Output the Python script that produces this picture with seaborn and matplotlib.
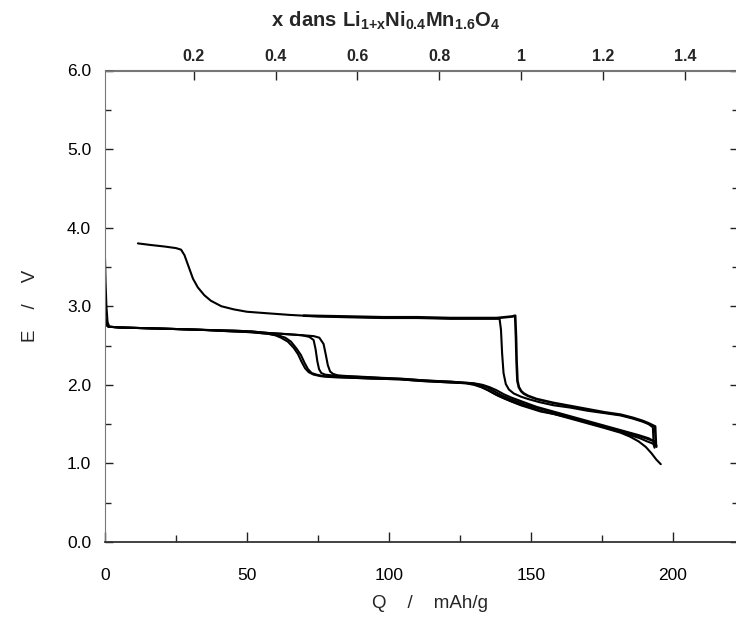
import numpy as np
import pandas as pd
import matplotlib
matplotlib.use("Agg")
import matplotlib.pyplot as plt
import seaborn as sns

# ---------------- data ----------------
q_u1 = [11.6, 16, 21, 25, 26.8, 28, 29.6, 31, 32.7, 35, 37.3, 41, 45.4, 50, 57.4, 65, 75, 85, 98, 110,
        121.8, 130, 136, 139.0, 139.5, 139.9, 140.4, 141.2, 142.3, 144, 146.5, 149, 153, 158, 164, 170,
        176, 181.7, 186, 189.5, 191.5, 193.0, 193.3]
e_u1 = [3.80, 3.78, 3.76, 3.74, 3.72, 3.65, 3.49, 3.35, 3.24, 3.14, 3.07, 3.00, 2.96, 2.93, 2.91, 2.89,
        2.87, 2.86, 2.85, 2.85, 2.84, 2.84, 2.84, 2.84, 2.70, 2.40, 2.15, 2.01, 1.94, 1.89, 1.85, 1.82,
        1.78, 1.74, 1.71, 1.67, 1.64, 1.61, 1.57, 1.53, 1.50, 1.46, 1.24]

q_u2 = [70, 85, 98, 110, 121.8, 130, 138, 143.5, 144.5, 144.8, 145.0, 145.3, 145.8, 146.6, 147.5, 149,
        152, 158, 164, 170, 176, 181.7, 186, 189.5, 191.5, 193.8, 194.1]
e_u2 = [2.88, 2.87, 2.86, 2.86, 2.85, 2.85, 2.85, 2.87, 2.88, 2.60, 2.30, 2.05, 1.97, 1.92, 1.89, 1.86,
        1.82, 1.77, 1.73, 1.69, 1.65, 1.62, 1.58, 1.54, 1.51, 1.47, 1.22]

q_l1 = [0.0, 0.2, 0.5, 0.9, 1.5, 5, 15, 25, 33.8, 45, 51.4, 57.4, 60, 62, 64.4, 66.5, 68, 69.3, 70.5,
        71.8, 73.5, 76, 79, 86.6, 93.7, 104, 111, 121.8, 127, 130, 132.5, 135, 137.5, 140, 143, 146.5,
        150, 153.5, 158, 164, 170, 176, 181.7, 185, 188, 190.5, 192.5, 194.2, 195.8]
e_l1 = [3.61, 3.30, 3.00, 2.80, 2.74, 2.73, 2.72, 2.71, 2.70, 2.68, 2.67, 2.65, 2.63, 2.60, 2.55, 2.47,
        2.39, 2.29, 2.21, 2.16, 2.13, 2.11, 2.10, 2.09, 2.08, 2.07, 2.05, 2.03, 2.02, 2.00, 1.97, 1.93,
        1.88, 1.84, 1.79, 1.74, 1.70, 1.66, 1.63, 1.57, 1.51, 1.45, 1.39, 1.34, 1.28, 1.21, 1.13, 1.05, 0.99]

q_l2 = [0.0, 0.5, 1.2, 5, 15, 25, 33.8, 45, 51.4, 57.4, 61, 63.5, 65.5, 67.5, 69, 70.3, 71.5, 72.8, 74.5,
        77, 80, 87, 94, 104, 111, 121.8, 128, 131, 133.5, 136, 138.5, 141, 144, 147, 150, 153.5, 158, 164,
        170, 176, 181.7, 185, 188.5, 191, 193.2, 193.6]
e_l2 = [2.90, 2.78, 2.74, 2.73, 2.72, 2.71, 2.70, 2.68, 2.67, 2.65, 2.63, 2.60, 2.55, 2.46, 2.38, 2.28,
        2.20, 2.15, 2.13, 2.11, 2.10, 2.09, 2.08, 2.07, 2.05, 2.03, 2.02, 2.00, 1.96, 1.91, 1.86, 1.82,
        1.78, 1.74, 1.71, 1.67, 1.63, 1.58, 1.52, 1.46, 1.40, 1.36, 1.32, 1.28, 1.25, 1.20]

q_l3 = [0.0, 0.5, 1.2, 5, 15, 25, 33.8, 45, 51.4, 57.4, 62, 66, 69.5, 72, 73.5, 74.2, 74.8, 75.4, 76.2,
        77.5, 80, 84, 90, 97, 104, 111, 121.8, 129, 132, 134.5, 137, 139.5, 142, 145, 148, 151, 155, 160,
        166, 172, 178, 183, 187, 190.5, 193.5, 193.8]
e_l3 = [2.85, 2.76, 2.74, 2.73, 2.72, 2.71, 2.70, 2.69, 2.68, 2.66, 2.65, 2.64, 2.63, 2.61, 2.57, 2.45,
        2.30, 2.20, 2.15, 2.13, 2.12, 2.11, 2.10, 2.09, 2.08, 2.06, 2.04, 2.02, 2.00, 1.97, 1.92, 1.87,
        1.83, 1.79, 1.75, 1.72, 1.68, 1.63, 1.57, 1.51, 1.45, 1.40, 1.36, 1.32, 1.28, 1.22]

q_l4 = [0.0, 0.5, 1.2, 5, 15, 25, 33.8, 45, 51.4, 57.4, 62, 66, 70, 73.5, 75.5, 77, 77.8, 78.5, 79.3,
        80.3, 82, 86, 92, 100, 107, 115, 121.8, 130, 133, 135.5, 138, 140.5, 143, 146, 149, 152, 156, 161,
        167, 173, 179, 184, 188, 191.5, 194.0, 194.3]
e_l4 = [2.85, 2.76, 2.74, 2.73, 2.72, 2.71, 2.70, 2.69, 2.68, 2.66, 2.65, 2.64, 2.63, 2.62, 2.60, 2.52,
        2.38, 2.25, 2.17, 2.14, 2.12, 2.11, 2.10, 2.08, 2.07, 2.05, 2.04, 2.02, 2.00, 1.97, 1.93, 1.88,
        1.84, 1.80, 1.76, 1.72, 1.68, 1.63, 1.57, 1.51, 1.45, 1.40, 1.36, 1.32, 1.27, 1.21]

curves = {
    "u1": (q_u1, e_u1, 1.5),
    "u2": (q_u2, e_u2, 1.9),
    "l1": (q_l1, e_l1, 1.5),
    "l2": (q_l2, e_l2, 1.5),
    "l3": (q_l3, e_l3, 1.5),
    "l4": (q_l4, e_l4, 1.5),
}

x_major = [0, 50, 100, 150, 200]
x_labels = ["0", "50", "100", "150", "200"]
y_major = [0.0, 1.0, 2.0, 3.0, 4.0, 5.0, 6.0]
y_labels = ["0.0", "1.0", "2.0", "3.0", "4.0", "5.0", "6.0"]
top_ticks = [0.2, 0.4, 0.6, 0.8, 1.0, 1.2, 1.4]
top_labels = ["0.2", "0.4", "0.6", "0.8", "1", "1.2", "1.4"]

# ---------------- style ----------------
sns.set_style("ticks")
plt.rcParams["font.family"] = ["Liberation Sans", "DejaVu Sans"]
plt.rcParams["mathtext.fontset"] = "custom"
plt.rcParams["mathtext.rm"] = "Liberation Sans"
plt.rcParams["mathtext.bf"] = "Liberation Sans:bold"

fig = plt.figure(figsize=(7.36, 6.26), dpi=100)
ax = fig.add_axes([105 / 736, 1 - 542 / 626, 633 / 736, 471.5 / 626])

for name, (q, e, lw) in curves.items():
    df = pd.DataFrame({"Q": q, "E": e})
    sns.lineplot(data=df, x="Q", y="E", sort=False, estimator=None, color="black",
                 lw=lw, ax=ax)

ax.set_xlim(0, 223)
ax.set_ylim(0, 6)
ax.set_xticks(x_major)
ax.set_xticklabels(x_labels)
ax.set_xticks([25, 75, 125, 175], minor=True)
ax.set_yticks(y_major)
ax.set_yticklabels(y_labels)
ax.set_yticks([0.5, 1.5, 2.5, 3.5, 4.5, 5.5], minor=True)

ax.tick_params(axis="x", which="major", direction="in", length=7, width=1.0,
               pad=19, labelsize=12.5, top=False, colors="#222222")
ax.tick_params(axis="x", which="minor", direction="in", length=5, width=1.0, top=False)
ax.tick_params(axis="y", which="major", direction="in", length=6, width=1.0,
               pad=10, labelsize=12.5, right=True, colors="#222222")
ax.tick_params(axis="y", which="minor", direction="in", length=4, width=1.0, right=True)
for lab in ax.get_xticklabels() + ax.get_yticklabels():
    lab.set_color("black")

for s in ["left", "top", "right"]:
    ax.spines[s].set_visible(True)
    ax.spines[s].set_color("#777777")
ax.spines["bottom"].set_color("#333333")
ax.spines["bottom"].set_linewidth(1.3)

ax.set_xlabel("Q    /    mAh/g", fontsize=13.5)
ax.set_ylabel("E    /    V", fontsize=13.5)
ax.xaxis.set_label_coords(0.513, -0.112)
ax.yaxis.set_label_coords(-0.105, 0.5)


def fwd(q):
    return (np.asarray(q) - 2.4) / 144.2


def inv(x):
    return np.asarray(x) * 144.2 + 2.4


sec = ax.secondary_xaxis("top", functions=(fwd, inv))
sec.set_xticks(top_ticks)
sec.set_xticklabels(top_labels, fontweight="bold")
sec.tick_params(axis="x", direction="in", length=7, width=1.0, pad=5, labelsize=11.5)
sec.spines["top"].set_color("#777777")

fig.text(386 / 736, 1 - 21 / 626,
         r"$\mathbf{x\ dans\ Li_{1{+}x}Ni_{0.4}Mn_{1.6}O_4}$",
         ha="center", va="center", fontsize=14.5)

fig.savefig("out.png", dpi=100)
